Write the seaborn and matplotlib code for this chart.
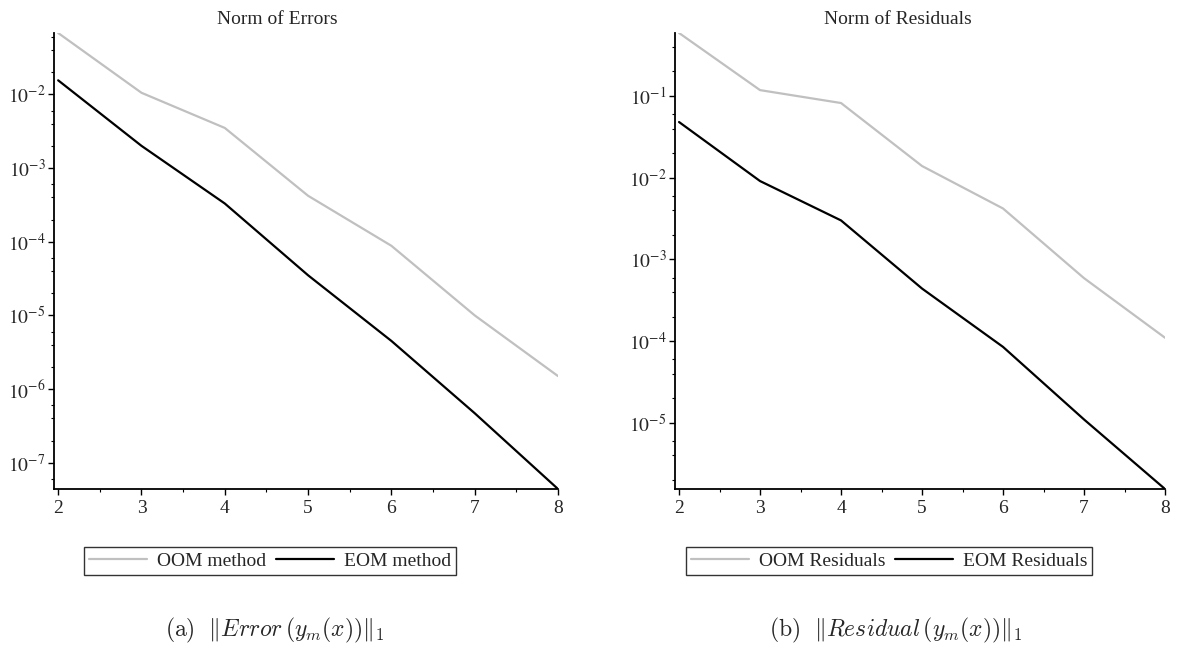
import numpy as np
import pandas as pd
import matplotlib
matplotlib.use("Agg")
import matplotlib.pyplot as plt
import matplotlib.ticker as mticker
import seaborn as sns

# valeurs
m_values = [2, 3, 4, 5, 6, 7, 8]
oom_errors = [0.068, 0.0105, 0.0035, 4.2e-4, 8.8e-5, 1.0e-5, 1.5e-6]
eom_errors = [0.0155, 2.0e-3, 3.3e-4, 3.5e-5, 4.5e-6, 4.7e-7, 4.4e-8]
oom_residuals = [0.59, 0.118, 0.082, 0.0139, 4.2e-3, 5.9e-4, 1.1e-4]
eom_residuals = [0.048, 9.1e-3, 3.0e-3, 4.4e-4, 8.5e-5, 1.1e-5, 1.55e-6]

titles = ["Norm of Errors", "Norm of Residuals"]
legend_labels = [["OOM method", "EOM method"], ["OOM Residuals", "EOM Residuals"]]
captions = [r"$\mathrm{(a)}\ \ \Vert Error\,(y_m(x))\Vert_1$",
            r"$\mathrm{(b)}\ \ \Vert Residual\,(y_m(x))\Vert_1$"]

sns.set_style("ticks")
plt.rcParams['font.family'] = ['Liberation Serif', 'DejaVu Serif']
plt.rcParams['mathtext.fontset'] = 'stix'

W, H = 1187, 653
fig = plt.figure(figsize=(W / 100, H / 100), dpi=100)

# positions des axes en pixels (gauche, bas, droite, haut)
boxes = [(54, 489, 558, 33), (675, 489, 1165, 33)]
title_x = [277, 898]
legend_x = [270, 889]
caption_x = [275, 896]

series = [(oom_errors, eom_errors), (oom_residuals, eom_residuals)]


def log_fmt(v, pos):
    e = int(round(np.log10(v)))
    return r"$10^{%d}$" % e


for i, (grey_vals, black_vals) in enumerate(series):
    l, b, r, t = boxes[i]
    ax = fig.add_axes([l / W, 1 - b / H, (r - l) / W, (b - t) / H])

    df = pd.DataFrame({
        "m": m_values * 2,
        "norm": list(grey_vals) + list(black_vals),
        "method": [legend_labels[i][0]] * len(m_values) + [legend_labels[i][1]] * len(m_values),
    })
    sns.lineplot(data=df, x="m", y="norm", hue="method",
                 palette=["#c0c0c0", "black"], linewidth=1.6, ax=ax)

    ax.set_yscale("log")
    ax.set_xlim(1.95, 8)
    ax.set_ylim(min(black_vals), max(grey_vals))
    ax.set_xlabel("")
    ax.set_ylabel("")

    ax.xaxis.set_major_locator(mticker.MultipleLocator(1))
    ax.xaxis.set_minor_locator(mticker.MultipleLocator(0.5))
    ax.yaxis.set_major_locator(mticker.LogLocator(base=10))
    ax.yaxis.set_minor_locator(mticker.LogLocator(base=10, subs=(2, 4, 6)))
    ax.yaxis.set_major_formatter(mticker.FuncFormatter(log_fmt))
    ax.yaxis.set_minor_formatter(mticker.NullFormatter())

    ax.tick_params(axis="both", which="major", length=4, width=1, labelsize=14,
                   direction="out", color="black", pad=2)
    ax.tick_params(axis="both", which="minor", length=2.5, width=0.8,
                   direction="out", color="black")
    ax.tick_params(axis="x", which="major", pad=4)

    sns.despine(ax=ax)
    for s in ["left", "bottom"]:
        ax.spines[s].set_linewidth(1.3)
        ax.spines[s].set_color("black")

    fig.text(title_x[i] / W, 1 - 19 / H, titles[i], ha="center", va="center", fontsize=14)

    leg = ax.legend(loc="center", bbox_to_anchor=(legend_x[i] / W, 1 - 561 / H),
                    bbox_transform=fig.transFigure, ncol=2, frameon=True,
                    fancybox=False, edgecolor="black", fontsize=14,
                    handlelength=3.0, handletextpad=0.5, columnspacing=0.5,
                    borderpad=0.25, borderaxespad=0)
    leg.get_frame().set_linewidth(1.0)
    for line in leg.get_lines():
        line.set_linewidth(1.6)

    fig.text(caption_x[i] / W, 1 - 630 / H, captions[i], ha="center", va="center",
             fontsize=17, math_fontfamily="cm")

fig.savefig("out.png", dpi=100)
